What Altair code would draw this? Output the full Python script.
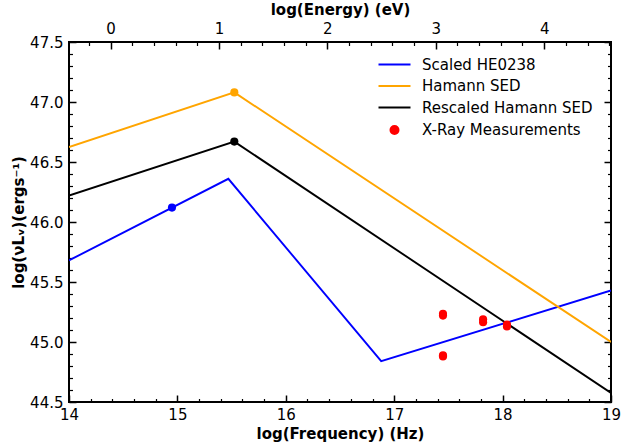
import altair as alt
import pandas as pd

# ---------------- data ----------------
series_names = ["Scaled HE0238", "Hamann SED", "Rescaled Hamann SED", "X-Ray Measurements"]
series_colors = ["#0000ff", "#ffa500", "#000000", "#ff0000"]

blue_x = [14.0, 15.47, 16.88, 19.0]
blue_y = [45.68, 46.36, 44.84, 45.43]
orange_x = [14.0, 15.525, 19.0]
orange_y = [46.625, 47.08, 45.0]
black_x = [14.0, 15.525, 19.0]
black_y = [46.22, 46.67, 44.575]

marker_series = ["Scaled HE0238", "Hamann SED", "Rescaled Hamann SED"]
marker_x = [14.95, 15.525, 15.525]
marker_y = [46.12, 47.08, 46.67]

xray_x = [17.45, 17.45, 17.45, 17.45, 17.82, 17.82, 18.04, 18.04]
xray_y = [45.235, 45.22, 44.89, 44.88, 45.19, 45.165, 45.145, 45.13]

x_major = [14, 15, 16, 17, 18, 19]
y_major = [44.5, 45.0, 45.5, 46.0, 46.5, 47.0, 47.5]
e_major = [0, 1, 2, 3, 4]
x_minor = [round(14 + 0.2 * i, 1) for i in range(26) if i % 5]
y_minor = [round(44.5 + 0.1 * i, 1) for i in range(31) if i % 5]
e_minor = [round(-0.2 + 0.2 * i, 1) for i in range(25) if (i - 1) % 5]

LOG_HZ_PER_EV = 14.3835  # log10 of (1 eV / h) in Hz

# ---------------- tables ----------------
rows = []
for name, xs, ys in [(series_names[0], blue_x, blue_y),
                     (series_names[1], orange_x, orange_y),
                     (series_names[2], black_x, black_y)]:
    for i, (a, b) in enumerate(zip(xs, ys)):
        rows.append({"series": name, "x": a, "y": b, "ord": i})
lines_df = pd.DataFrame(rows)

pts_rows = [{"series": s, "x": a, "y": b} for s, a, b in zip(marker_series, marker_x, marker_y)]
pts_rows += [{"series": series_names[3], "x": a, "y": b} for a, b in zip(xray_x, xray_y)]
pts_df = pd.DataFrame(pts_rows)

freq_df = pd.DataFrame({"x": [14, 19], "y": [44.5, 47.5]})
en_df = pd.DataFrame({"e": [14 - LOG_HZ_PER_EV, 19 - LOG_HZ_PER_EV], "y": [44.5, 47.5]})

XS = alt.Scale(domain=[14, 19], nice=False, zero=False)
YS = alt.Scale(domain=[44.5, 47.5], nice=False, zero=False)
ES = alt.Scale(domain=[14 - LOG_HZ_PER_EV, 19 - LOG_HZ_PER_EV], nice=False, zero=False)
CS = alt.Scale(domain=series_names, range=series_colors)

MAJ, MIN = 7, 3.5

xray_test = f"datum.value === '{series_names[3]}'"
stroke_expr = " : ".join(
    [f"datum.value === '{n}' ? '{c}'" for n, c in zip(series_names[:3], series_colors[:3])]
) + " : 'transparent'"
legend = alt.Legend(
    title=None, orient="none", legendX=318, legendY=15, padding=0,
    labelFont="DejaVu Sans", labelFontSize=15, labelColor="black", labelLimit=0,
    symbolSize=64, symbolStrokeWidth=2, labelOffset=20, rowPadding=5.5,
    symbolType={"expr": f"{xray_test} ? 'circle' : 'M-4,0H4'"},
    symbolFillColor={"expr": f"{xray_test} ? '{series_colors[3]}' : 'transparent'"},
    symbolStrokeColor={"expr": stroke_expr},
    symbolOpacity=1,
)


def tick_axis(orient, values, size, width):
    return alt.Axis(orient=orient, values=values, labels=False, title=None, ticks=True,
                    tickSize=size, tickWidth=width, offset=-size, domain=False, grid=False)


def carrier(df, xfield, xscale, xaxis, yaxis):
    return alt.Chart(df).mark_point(opacity=0).encode(
        x=alt.X(f"{xfield}:Q", scale=xscale, axis=xaxis),
        y=alt.Y("y:Q", scale=YS, axis=yaxis),
    )


lines = alt.Chart(lines_df).mark_line(strokeWidth=1.9, clip=True).encode(
    x=alt.X("x:Q", scale=XS, axis=alt.Axis(orient="bottom", values=x_major, format="d",
                                            title="log(Frequency) (Hz)", ticks=False, tickSize=0,
                                            labelPadding=5, titlePadding=4, labelFlush=False,
                                            domain=False)),
    y=alt.Y("y:Q", scale=YS, axis=alt.Axis(orient="left", values=y_major, format=".1f",
                                            title="log(νLᵥ)(ergs⁻¹)", ticks=False, tickSize=0,
                                            labelPadding=6, titlePadding=3, labelFlush=False,
                                            domain=False)),
    color=alt.Color("series:N", scale=CS, legend=legend),
    order="ord:Q",
)

points = alt.Chart(pts_df).mark_circle(size=66, opacity=1).encode(
    x=alt.X("x:Q", scale=XS, axis=None),
    y=alt.Y("y:Q", scale=YS, axis=None),
    color=alt.Color("series:N", scale=CS, legend=None),
)

layers = [
    lines,
    points,
    carrier(freq_df, "x", XS, tick_axis("bottom", x_major, MAJ, 1.5), tick_axis("left", y_major, MAJ, 1.5)),
    carrier(freq_df, "x", XS, tick_axis("bottom", x_minor, MIN, 1.2), tick_axis("left", y_minor, MIN, 1.2)),
    carrier(freq_df, "x", XS, None, tick_axis("right", y_major, MAJ, 1.5)),
    carrier(freq_df, "x", XS, None, tick_axis("right", y_minor, MIN, 1.2)),
    carrier(en_df, "e", ES, alt.Axis(orient="top", values=e_major, format="d", title="log(Energy) (eV)",
                                     ticks=False, tickSize=0, labelPadding=6, titlePadding=4,
                                     labelFlush=False, domain=False), None),
    carrier(en_df, "e", ES, tick_axis("top", e_major, MAJ, 1.5), None),
    carrier(en_df, "e", ES, tick_axis("top", e_minor, MIN, 1.2), None),
]

chart = alt.layer(*layers).resolve_scale(x="independent").resolve_axis(
    x="independent", y="independent"
).properties(
    width=542, height=360,
    padding={"left": 69, "top": 42, "right": 12, "bottom": 45},
    autosize=alt.AutoSizeParams(type="none"),
).configure_view(stroke="black", strokeWidth=2).configure_axis(
    labelFont="DejaVu Sans", labelFontSize=15, labelColor="black",
    titleFont="DejaVu Sans", titleFontSize=15, titleFontWeight="bold", titleColor="black",
    tickColor="black", grid=False,
)

chart.save("out.html", embed_options={"renderer": "svg", "actions": False})
